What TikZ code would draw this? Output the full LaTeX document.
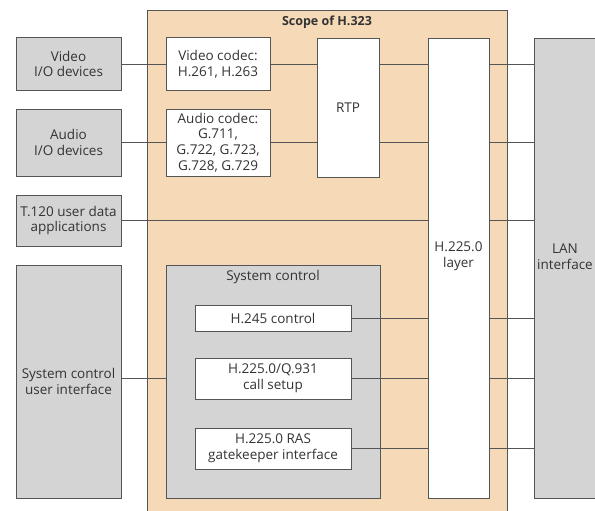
\documentclass[tikz,border=0pt]{standalone}
\usepackage{fontspec}
\setmainfont{Open Sans}
\definecolor{edge}{HTML}{555555}
\definecolor{txt}{HTML}{333333}
\definecolor{boxgray}{HTML}{D4D4D4}
\definecolor{scopefill}{HTML}{F6DAB7}
\begin{document}
\begin{tikzpicture}[x=1pt,y=-1pt,
  lbl/.style={font=\fontsize{13.5}{15.7}\selectfont, text=txt, align=center},
  box/.style={lbl, draw=edge, line width=0.8pt, inner sep=0pt},
  graybox/.style={box, fill=boxgray},
  whitebox/.style={box, fill=white},
  link/.style={draw=edge, line width=0.8pt}]
\useasboundingbox (0,0) rectangle (595,511);

% scope of H.323 (runs past the bottom edge of the page)
\node[box, fill=scopefill, minimum width=360, minimum height=506] (scope) at (327,263) {};
\node[font=\fontsize{12.5}{14}\selectfont\bfseries, text=txt] (scopettl) at (327,22) {Scope of H.323};

% terminal side
\node[graybox, minimum width=105, minimum height=53] (vio) at (68.5,64) {Video\\I/O devices};
\node[graybox, minimum width=105, minimum height=67] (aio) at (68.5,142.5) {Audio\\I/O devices};
\node[graybox, minimum width=105, minimum height=51] (t120) at (68.5,220.5) {T.120 user data\\applications};
\node[graybox, minimum width=105, minimum height=233] (scui) at (68.5,381.5) {System control\\user interface};

% codecs and RTP
\node[whitebox, minimum width=104, minimum height=53] (vcod) at (218,64) {Video codec:\\H.261, H.263};
\node[whitebox, minimum width=104, minimum height=67] (acod) at (218,142.5) {Audio codec:\\G.711,\\G.722, G.723,\\G.728, G.729};
\node[whitebox, minimum width=62, minimum height=139] (rtp) at (348,107.5) {RTP};

% system control
\node[graybox, minimum width=214, minimum height=233] (sysc) at (273,381.5) {};
\node[lbl] (sysclbl) at (273,277) {System control};
\node[whitebox, minimum width=156, minimum height=26] (h245) at (273,318) {H.245 control};
\node[whitebox, minimum width=156, minimum height=41] (q931) at (273,378.5) {H.225.0/Q.931\\call setup};
\node[whitebox, minimum width=156, minimum height=41] (ras) at (273,448.5) {H.225.0 RAS\\gatekeeper interface};

% H.225.0 layer and LAN interface
\node[whitebox, minimum width=61, minimum height=460] (h225) at (458.5,268) {};
\node[lbl] (h225lbl) at (458.5,256) {H.225.0\\layer};
\node[graybox, minimum width=64, minimum height=460] (lan) at (566,268) {};
\node[lbl] (lanlbl) at (565,257) {LAN\\interface};

% connectors
\draw[link] (vio.east) -- (vcod.west);
\draw[link] (vcod.east) -- (vcod.east -| rtp.west);
\draw[link] (vcod.east -| rtp.east) -- (vcod.east -| h225.west);
\draw[link] (vcod.east -| h225.east) -- (vcod.east -| lan.west);
\draw[link] (aio.east) -- (acod.west);
\draw[link] (acod.east) -- (acod.east -| rtp.west);
\draw[link] (acod.east -| rtp.east) -- (acod.east -| h225.west);
\draw[link] (acod.east -| h225.east) -- (acod.east -| lan.west);
\draw[link] (t120.east) -- (t120.east -| h225.west);
\draw[link] (t120.east -| h225.east) -- (t120.east -| lan.west);
\draw[link] (scui.east |- q931.west) -- (q931.west -| sysc.west);
\draw[link] (h245.east) -- (h245.east -| h225.west);
\draw[link] (h245.east -| h225.east) -- (h245.east -| lan.west);
\draw[link] (q931.east) -- (q931.east -| h225.west);
\draw[link] (q931.east -| h225.east) -- (q931.east -| lan.west);
\draw[link] (ras.east) -- (ras.east -| h225.west);
\draw[link] (ras.east -| h225.east) -- (ras.east -| lan.west);
\end{tikzpicture}
\end{document}
